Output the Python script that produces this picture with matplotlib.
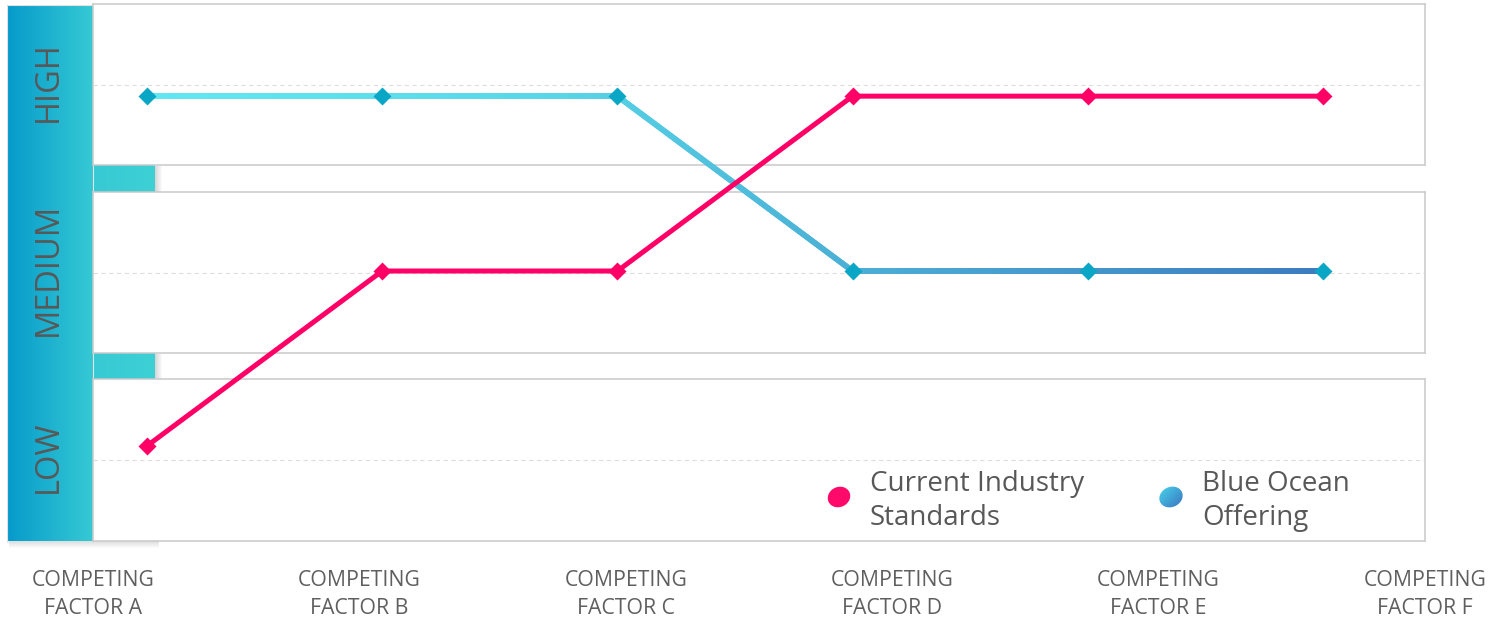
import matplotlib
matplotlib.use("Agg")
import matplotlib.pyplot as plt
import numpy as np
from matplotlib.collections import LineCollection
from matplotlib.colors import LinearSegmentedColormap
from matplotlib.patches import Ellipse, Rectangle

# ── Data ──────────────────────────────────────────────────────────
factors = ['COMPETING\nFACTOR A', 'COMPETING\nFACTOR B', 'COMPETING\nFACTOR C',
           'COMPETING\nFACTOR D', 'COMPETING\nFACTOR E', 'COMPETING\nFACTOR F']
levels = ['LOW', 'MEDIUM', 'HIGH']          # 1, 2, 3
industry = [1, 2, 2, 3, 3, 3]                # Current Industry Standards
blue_ocean = [3, 3, 3, 2, 2, 2]              # Blue Ocean Offering
series_names = ['Current Industry\nStandards', 'Blue Ocean\nOffering']

# ── Style ─────────────────────────────────────────────────────────
W, H = 1509, 621
pink = '#ff0066'
blue_marker = '#0aa6c6'
text_col = '#585858'
border = '#c9c9c9'
tick_col = '#dcdcdc'
FONT = ['Open Sans', 'DejaVu Sans']
plt.rcParams['font.family'] = FONT

band_cmap = LinearSegmentedColormap.from_list(
    'band', [(0, '#069acb'), (0.45, '#2bbfd2'), (0.6, '#38cad4'), (1, '#3dd0d5')])
line_cmap = LinearSegmentedColormap.from_list(
    'ocean', [(0, '#62e8f2'), (0.35, '#58d6e8'), (0.55, '#4db6d8'), (1, '#3c7bbf')])
blob_cmap = LinearSegmentedColormap.from_list('blob', ['#48dcee', '#3a6cbd'])


def frect(x0, y0, x1, y1):
    """pixel box (top-left origin) -> figure fraction rect"""
    return [x0 / W, 1 - y1 / H, (x1 - x0) / W, (y1 - y0) / H]


fig = plt.figure(figsize=(W / 100, H / 100), dpi=100, facecolor='white')

# ── Background: gradient band, tabs, shadows ─────────────────────
bg = fig.add_axes([0, 0, 1, 1], zorder=0)
bg.set_xlim(0, W)
bg.set_ylim(H, 0)
bg.axis('off')

grad = np.linspace(0, 1, 256).reshape(1, -1)
bg.imshow(grad, cmap=band_cmap, aspect='auto', extent=(7, 155, 541, 5),
          origin='upper', zorder=1)
bg.add_patch(Rectangle((6.5, 4.5), 86.5, 537, fill=False, ec='#e2e2e2', lw=0.8, zorder=2))

# soft shadows (right of tabs, below band)
for i in range(7):
    a = 0.28 * (1 - i / 7)
    for ty in (165, 353):
        bg.add_patch(Rectangle((155 + i, ty + 1), 1, 26, color='#707070', alpha=a,
                               lw=0, zorder=0.5))
    bg.add_patch(Rectangle((9, 541 + i), 150, 1, color='#707070', alpha=a * 0.8,
                           lw=0, zorder=0.5))

# ── Panels ───────────────────────────────────────────────────────
panel_y = [(4, 165), (192, 353), (379, 541)]
panels = []
for k, (y0, y1) in enumerate(panel_y):
    ax = fig.add_axes(frect(93, y0, 1425, y1), zorder=1)
    ax.set_facecolor('white')
    ax.set_xlim(0, len(factors) - 1)
    ax.set_ylim(0, 1)
    ax.axhline(0.5, color='#dddddd', lw=0.8, ls=(0, (4, 3)))
    for s in ax.spines.values():
        s.set_color(border)
        s.set_linewidth(1.1)
    ax.set_yticks([])
    ax.set_xticks(range(len(factors)))
    ax.set_xticks(range(1, len(factors) - 1), minor=True)
    ax.tick_params(axis='x', which='major', length=0, labelbottom=False)
    ax.tick_params(axis='x', which='minor', direction='in', length=9, width=2.2,
                   color=tick_col, top=True, bottom=True)
    panels.append(ax)

# category labels under the last panel
ax3 = panels[-1]
ax3.set_xticklabels(factors, fontsize=15.3, color='#5f5f5f', linespacing=1.42)
ax3.tick_params(axis='x', which='major', labelbottom=True, pad=21)

# level labels on the band
for (y0, y1), lab in zip(panel_y, levels[::-1]):
    bg.text(48, (y0 + y1) / 2 - 3, lab, rotation=90, ha='center', va='center',
            fontsize=23.5, color=text_col, zorder=3)

# ── Lines ────────────────────────────────────────────────────────
lx = fig.add_axes(frect(93, 4, 1425, 541), zorder=2)
lx.patch.set_visible(False)
lx.axis('off')
lx.set_xlim(-0.2296, 5.4337)
lx.set_ylim(0.456, 3.527)
xs = np.arange(len(factors))

# blue ocean line with left→right colour gradient
xf = np.linspace(0, len(factors) - 1, 600)
yf = np.interp(xf, xs, blue_ocean)
pts = np.column_stack([xf, yf]).reshape(-1, 1, 2)
segs = np.concatenate([pts[:-1], pts[1:]], axis=1)
lc = LineCollection(segs, colors=line_cmap(xf[:-1] / xf[-1]), linewidths=4.2,
                    capstyle='round', zorder=2)
lx.add_collection(lc)
lx.plot(xs, blue_ocean, ls='none', marker='D', ms=8.8, color=blue_marker,
        mec='none', zorder=4, clip_on=False)

lx.plot(xs, industry, color=pink, lw=3.6, marker='D', ms=9.6, mec='none',
        solid_joinstyle='miter', zorder=3, clip_on=False)

# ── Legend ───────────────────────────────────────────────────────
lg = fig.add_axes([0, 0, 1, 1], zorder=3)
lg.set_xlim(0, W)
lg.set_ylim(H, 0)
lg.axis('off')

lg.add_patch(Ellipse((839, 497), 23, 20, angle=-25, color='#ff0a6b', lw=0))
blob = Ellipse((1171, 497), 24, 20, angle=-25, color='none', lw=0)
lg.add_patch(blob)
g2 = np.add.outer(np.linspace(0, 1, 64), np.linspace(0, 1, 64)) / 2
im = lg.imshow(g2, cmap=blob_cmap, extent=(1158, 1184, 510, 484), origin='upper',
               aspect='auto')
im.set_clip_path(blob)

lg.text(870, 501, series_names[0], ha='left', va='center', fontsize=20,
        color=text_col, linespacing=1.3)
lg.text(1202, 501, series_names[1], ha='left', va='center', fontsize=20,
        color=text_col, linespacing=1.3)

fig.savefig('out.png', dpi=100, facecolor='white')
